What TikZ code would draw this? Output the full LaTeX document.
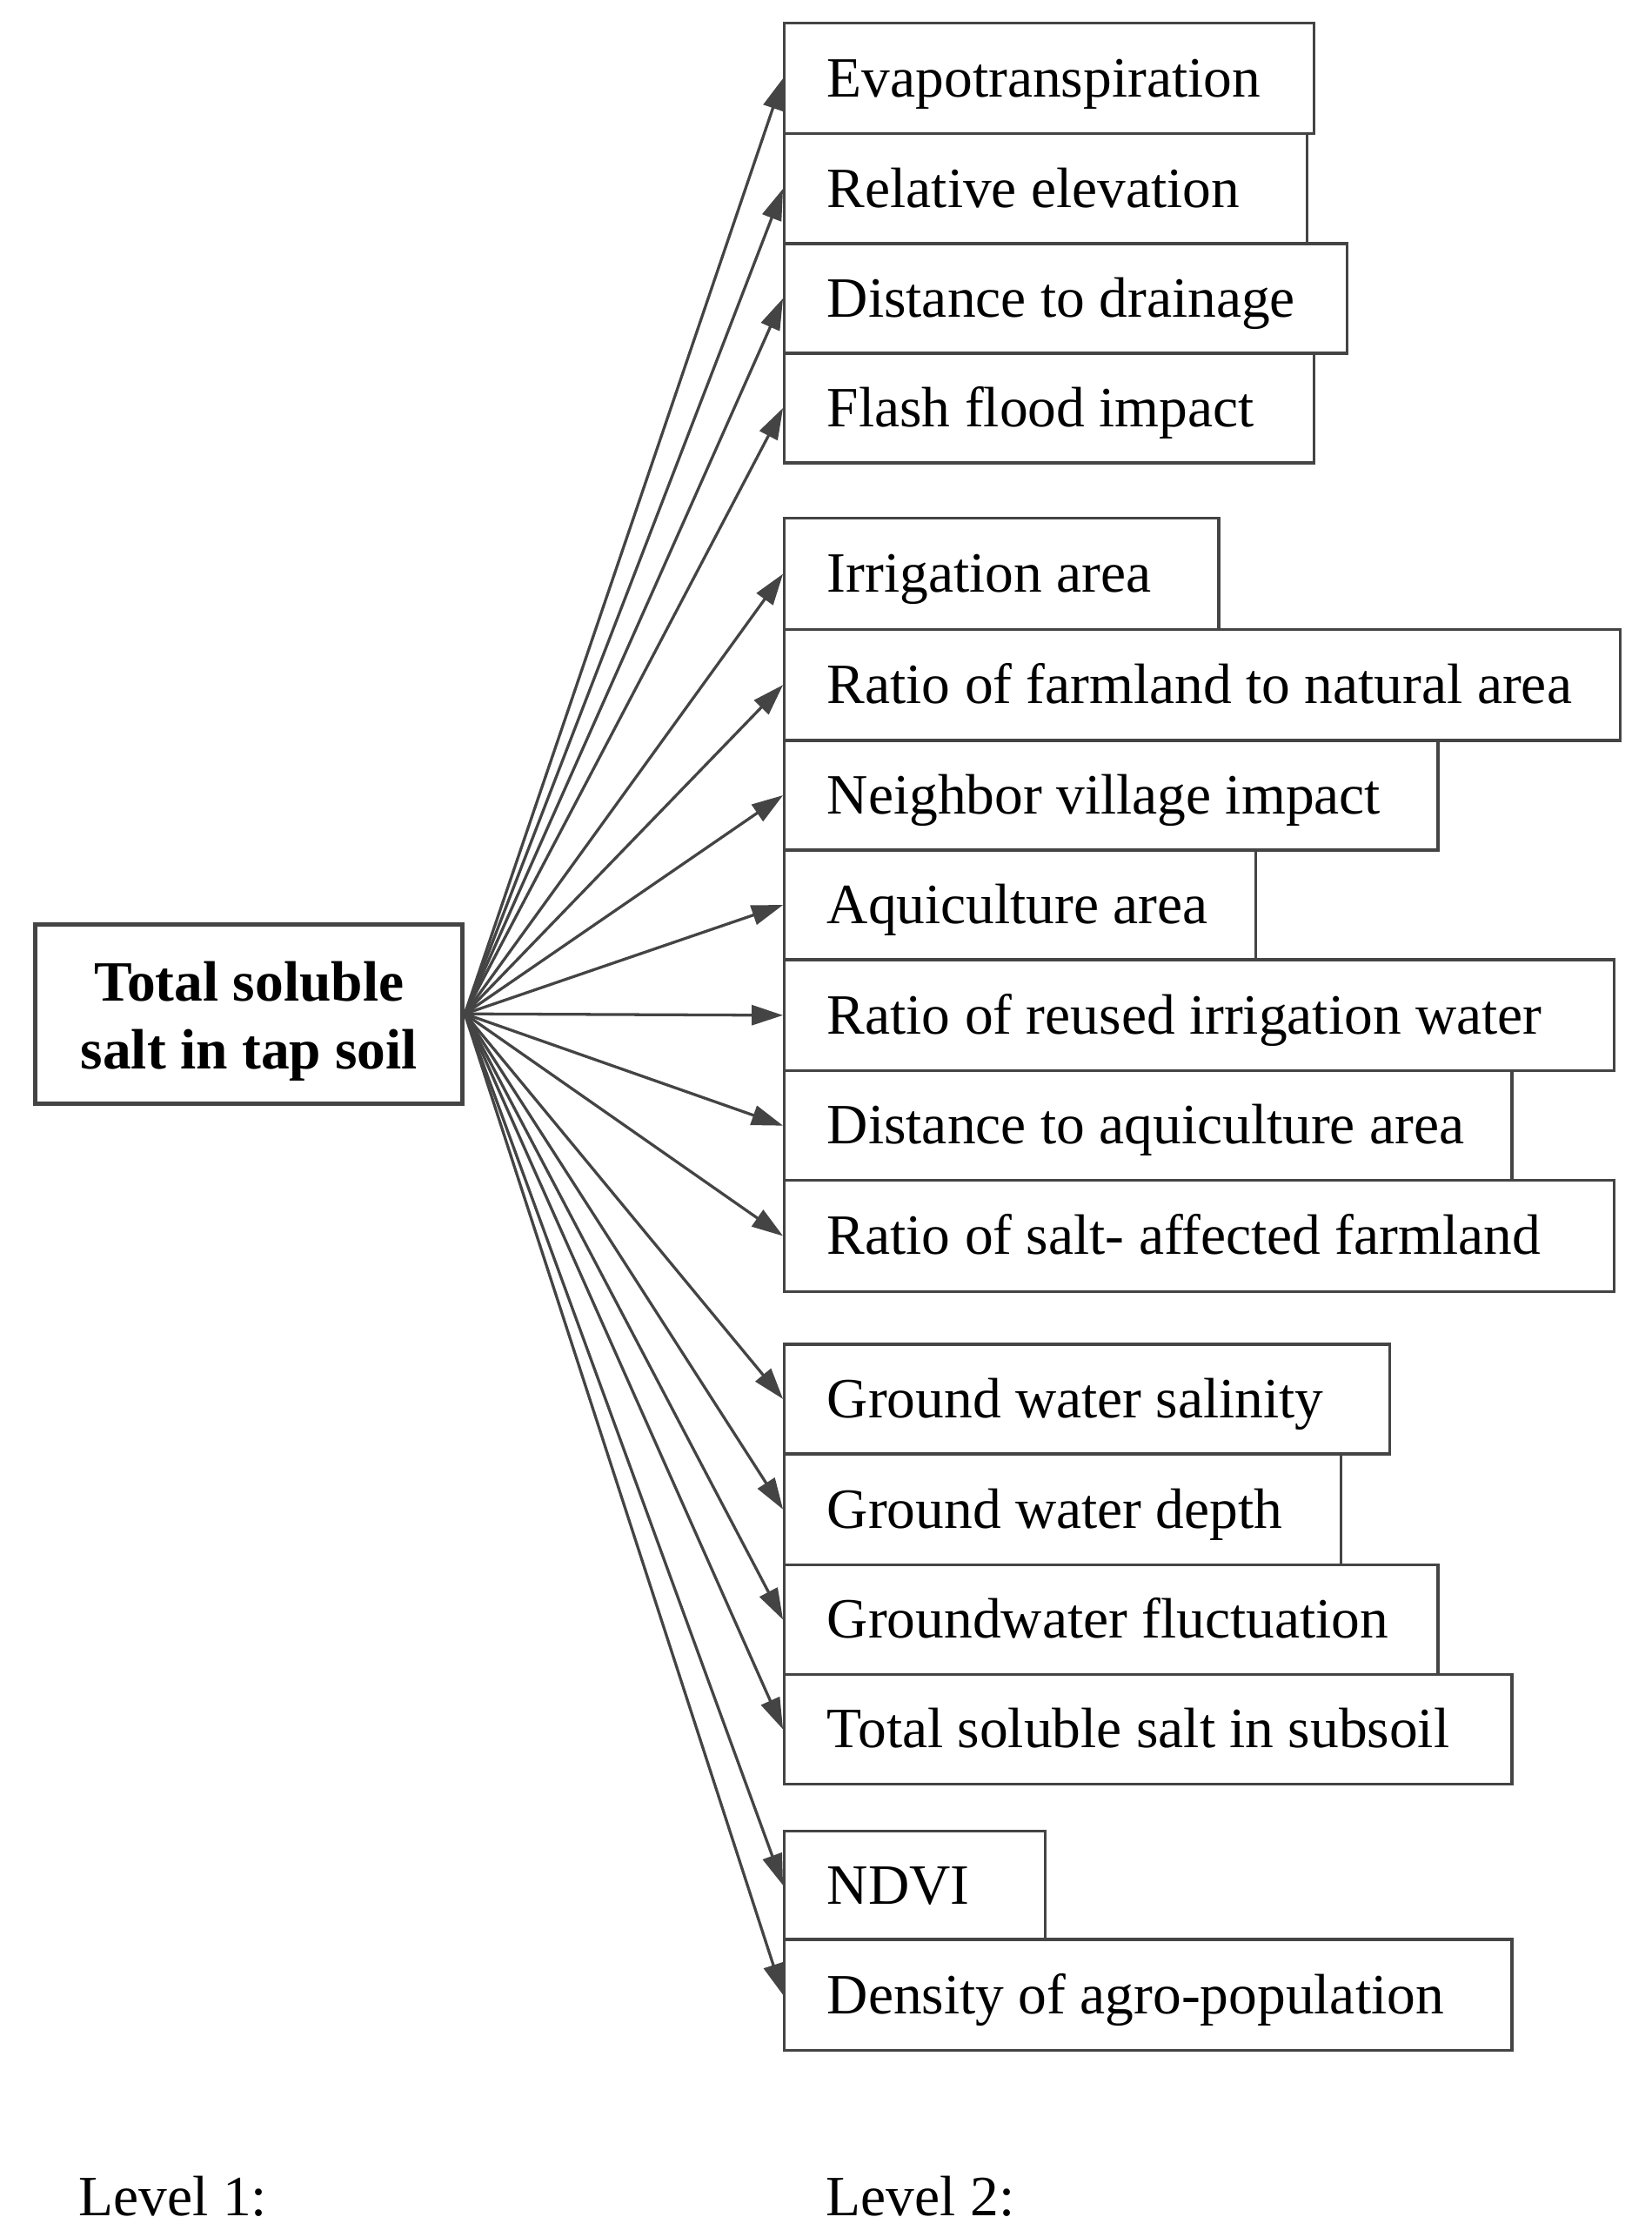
\documentclass[tikz,border=0pt]{standalone}
\usepackage{fontspec}
\setmainfont{Liberation Serif}
\usetikzlibrary{arrows.meta}
\definecolor{linec}{HTML}{444444}
\tikzset{
  box/.style={draw=linec, line width=1pt, anchor=north west, inner xsep=15pt, inner ysep=0pt,
    text height=17pt, text depth=4pt, font=\fontsize{20}{24}\selectfont, text=black},
  rootbox/.style={draw=linec, line width=1.5pt, align=center, inner sep=0pt,
    minimum width=150pt, minimum height=63pt, font=\fontsize{20}{24}\selectfont\bfseries},
  conn/.style={draw=linec, line width=1pt, -{Triangle[length=11pt,width=7pt]}},
  lvl/.style={anchor=base west, inner sep=0pt, font=\fontsize{20}{24}\selectfont}
}
\newcommand{\bx}[6]{% name, top, height(pt), textwidth(pt), text
  \node[box, minimum height=#3pt] (#1) at (550,#2) {\makebox[#4pt][l]{#5}};}
\begin{document}
\begin{tikzpicture}[x=0.5pt,y=-0.5pt]
\useasboundingbox (0,0) rectangle (1160,1571);
\node[rootbox] (root) at (175,712) {\rule{0pt}{19pt}Total soluble\\salt in tap soil};
\bx{b1}{15}{39}{156}{Evapotranspiration}{}
\bx{b2}{93}{38.5}{153.5}{Relative elevation}{}
\bx{b3}{170}{38.5}{167.5}{Distance to drainage}{}
\bx{b4}{247}{38.5}{156}{Flash flood impact}{}
\bx{b5}{363}{39}{122.5}{Irrigation area}{}
\bx{b6}{441}{39}{263.5}{Ratio of farmland to natural area}{}
\bx{b7}{519}{38.5}{199.5}{Neighbor village impact}{}
\bx{b8}{596}{38.5}{135.5}{Aquiculture area}{}
\bx{b9}{673}{39}{261.5}{Ratio of reused irrigation water}{}
\bx{b10}{751}{38.5}{225.5}{Distance to aquiculture area}{}
\bx{b11}{828}{39}{261.5}{Ratio of salt- affected farmland}{}
\bx{b12}{943}{38.5}{182.5}{Ground water salinity}{}
\bx{b13}{1020}{39}{165.5}{Ground water depth}{}
\bx{b14}{1098}{38.5}{199.5}{Groundwater fluctuation}{}
\bx{b15}{1175}{38.5}{225.5}{Total soluble salt in subsoil}{}
\bx{b16}{1285}{38}{61.5}{NDVI}{}
\bx{b17}{1361}{39}{225.5}{Density of agro-population}{}
\foreach \i in {1,...,17}{
  \draw[conn] (root.east) -- (b\i.west);
}
\node[lvl] (l1) at (55,1556) {Level 1:};
\node[lvl] (l2) at (580,1556) {Level 2:};
\end{tikzpicture}
\end{document}
